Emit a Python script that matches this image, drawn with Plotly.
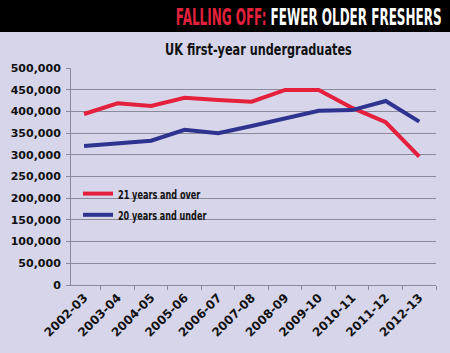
import plotly.graph_objects as go

years = ["2002-03", "2003-04", "2004-05", "2005-06", "2006-07", "2007-08",
         "2008-09", "2009-10", "2010-11", "2011-12", "2012-13"]
over21 = [394000, 418500, 412500, 431500, 426500, 422500, 449500, 449500, 408000, 375000, 296000]
under20 = [320500, 326500, 332500, 357500, 349500, 366500, 384000, 401500, 403000, 424000, 376500]
yticks = [0, 50000, 100000, 150000, 200000, 250000, 300000, 350000, 400000, 450000, 500000]
ytext = ["0" if v == 0 else f"{v:,}" for v in yticks]

RED = "#e4203c"
BLUE = "#2e3390"
BG = "#d6d5ea"
FONT = "DejaVu Sans, sans-serif"

fig = go.Figure()
fig.add_trace(go.Scatter(x=years, y=over21, mode="lines",
                         name="<span style='font-size:12.5px'>21 years and over</span>",
                         line=dict(color=RED, width=4)))
fig.add_trace(go.Scatter(x=years, y=under20, mode="lines",
                         name="<span style='font-size:12.5px'>20 years and under</span>",
                         line=dict(color=BLUE, width=4)))

W, H = 450, 353
L, R, T, B = 71, 14, 68, 68
pw, ph = W - L - R, H - T - B

def px(x):
    return (x - L) / pw

def py(y):
    return (H - B - y) / ph

fig.update_layout(
    width=W, height=H,
    margin=dict(l=L, r=R, t=T, b=B),
    paper_bgcolor=BG, plot_bgcolor=BG,
    showlegend=True,
    legend=dict(x=px(78), y=py(178), xanchor="left", yanchor="top",
                bgcolor="rgba(0,0,0,0)", tracegroupgap=0,
                font=dict(family=FONT, size=14, color="#111", weight="bold"),
                itemwidth=30),
    xaxis=dict(type="category", range=[-0.39, 10.5], tickson="boundaries",
               ticks="outside", ticklen=4, tickcolor="#8a8a99",
               showline=True, linecolor="#8a8a99", linewidth=1,
               showgrid=False, tickangle=-45,
               tickfont=dict(family=FONT, size=12, color="#111", weight="bold")),
    yaxis=dict(range=[0, 500000], tickvals=yticks, ticktext=ytext,
               ticks="outside", ticklen=4, tickcolor="#8a8a99",
               showline=True, linecolor="#8a8a99", linewidth=1,
               showgrid=True, gridcolor="#8a8a99", gridwidth=1,
               zeroline=False, ticklabelstandoff=3,
               tickfont=dict(family=FONT, size=11, color="#111", weight="bold")),
    shapes=[dict(type="rect", xref="paper", yref="paper",
                 x0=px(0), x1=px(W), y0=py(32), y1=py(0),
                 fillcolor="#000", line=dict(width=0), layer="above")],
    annotations=[
        dict(text=f"<span style='color:{RED}'>FALLING OFF:</span> FEWER OLDER FRESHERS",
             xref="paper", yref="paper", x=px(444), y=py(17),
             xanchor="right", yanchor="middle", showarrow=False,
             font=dict(family=FONT, size=23, color="#fff", weight="bold")),
        dict(text="UK first-year undergraduates",
             xref="paper", yref="paper", x=px(258), y=py(50),
             xanchor="center", yanchor="middle", showarrow=False,
             font=dict(family=FONT, size=16, color="#111", weight="bold")),
    ],
)

squeeze_js = """
var gd = document.getElementById('{plot_id}');
function fit(el, target, anchor){
  el.removeAttribute('transform');
  var b = el.getBBox();
  if (!b.width) return;
  var ax = anchor === 'right' ? b.x + b.width : (anchor === 'left' ? b.x : b.x + b.width / 2);
  var s = target / b.width;
  el.setAttribute('transform', 'translate(' + ax + ',0) scale(' + s + ',1) translate(' + (-ax) + ',0)');
}
function squeezeAll(){
  gd.querySelectorAll('.annotation-text').forEach(function(el){
    var t = el.textContent;
    if (t.indexOf('FALLING') === 0) fit(el, 266, 'right');
    else if (t.indexOf('UK') === 0) fit(el, 187, 'center');
  });
  gd.querySelectorAll('.legendtext').forEach(function(el){
    var t = el.textContent;
    fit(el, t.indexOf('21') === 0 ? 83 : 89, 'left');
  });
}
squeezeAll();
gd.on('plotly_afterplot', squeezeAll);
"""

fig.write_html("out.html", post_script=squeeze_js)
